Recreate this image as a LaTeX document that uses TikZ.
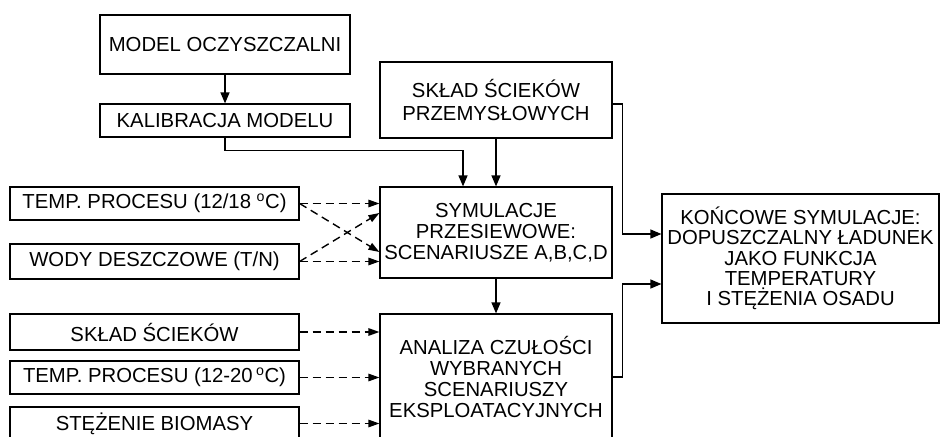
\documentclass[tikz,border=0pt]{standalone}
\usepackage{fontspec}
\setmainfont{Liberation Sans}
\usetikzlibrary{arrows.meta}

\begin{document}
\begin{tikzpicture}[x=1pt,y=-1pt,
  box/.style={draw,line width=1.2pt,inner sep=0pt,align=center,
    font=\fontsize{20.3}{21}\selectfont},
  link/.style={line width=1.3pt,-{Triangle[length=11pt,width=9pt]}},
  dlink/.style={line width=1.4pt,dash pattern=on 8pt off 5pt,-{Triangle[length=11pt,width=7.5pt]}}]
\useasboundingbox (0,0) rectangle (941,436);
% left column
\node[box,minimum width=250pt,minimum height=59pt] (model) at (225,44.5) {MODEL OCZYSZCZALNI};
\node[box,minimum width=250pt,minimum height=33pt] (kalib) at (225,120.5) {KALIBRACJA MODELU};
\node[box,minimum width=289pt,minimum height=33pt] (temp1) at (154.5,203.5) {TEMP. PROCESU (12/18 \textsuperscript{o}C)};
\node[box,minimum width=289pt,minimum height=35pt] (wody) at (154.5,261.5) {WODY DESZCZOWE (T/N)};
\node[box,minimum width=289pt,minimum height=36pt] (sklad) at (154.5,332) {SKŁAD ŚCIEKÓW};
\node[box,minimum width=289pt,minimum height=33pt] (temp2) at (154.5,377.5) {TEMP. PROCESU (12-20\,\textsuperscript{o}C)};
\node[box,minimum width=289pt,minimum height=33pt] (stez) at (154.5,423.5) {STĘŻENIE BIOMASY};
% middle column
\node[box,minimum width=232pt,minimum height=76pt,font=\fontsize{20.3}{22.5}\selectfont] (przem) at (496,100) {SKŁAD ŚCIEKÓW\\PRZEMYSŁOWYCH};
\node[box,minimum width=232pt,minimum height=91pt] (sym) at (496,232.5) {SYMULACJE\\PRZESIEWOWE:\\SCENARIUSZE A,B,C,D};
\node[box,minimum width=232pt,minimum height=126pt] (ana) at (496,377) {ANALIZA CZUŁOŚCI\\WYBRANYCH\\SCENARIUSZY\\EKSPLOATACYJNYCH};
% result
\node[box,minimum width=277pt,minimum height=129pt,font=\fontsize{20.3}{20.3}\selectfont] (konc) at (800.5,258.5) {KOŃCOWE SYMULACJE:\\DOPUSZCZALNY ŁADUNEK\\JAKO FUNKCJA\\TEMPERATURY\\I STĘŻENIA OSADU};
% solid connectors
\draw[link] (model) -- (kalib);
\draw[link] (kalib.south) -- ++(0,13) -| ([xshift=-33pt]sym.north);
\draw[link] (przem) -- (sym);
\draw[link] (sym) -- (ana);
\draw[link] ([yshift=-4pt]przem.east) -- ++(10,0) |- ([yshift=24.5pt]konc.west);
\draw[link] (ana.east) -- ++(10,0) |- ([yshift=-25.5pt]konc.west);
% dashed inputs
\draw[dlink] (temp1.east) -- (temp1.east -| sym.west);
\draw[dlink] (wody.east) -- (wody.east -| sym.west);
\draw[dlink] (temp1.east) -- ([yshift=-19.5pt]sym.west);
\draw[dlink] (wody.east) -- ([yshift=19.5pt]sym.west);
\draw[dlink] (sklad.east) -- (sklad.east -| ana.west);
\draw[dlink] (temp2.east) -- (temp2.east -| ana.west);
\draw[dlink] (stez.east) -- (stez.east -| ana.west);
\end{tikzpicture}
\end{document}
